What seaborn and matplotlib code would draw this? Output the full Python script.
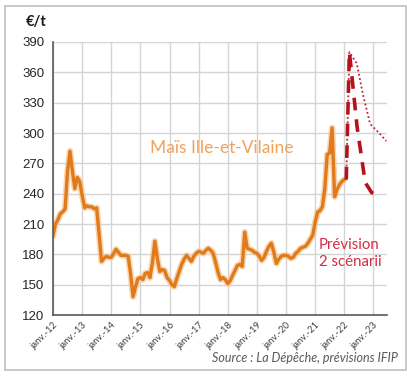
import numpy as np
import pandas as pd
import matplotlib
matplotlib.use("Agg")
import matplotlib.pyplot as plt
import seaborn as sns
from matplotlib.patches import Rectangle

# ---------------- data ----------------
hist_start = "2012-01-01"
hist_values = [
    198, 210, 214, 220, 222, 225, 262, 282, 262, 245, 256, 252,   # 2012
    238, 226, 228, 227, 227, 225, 226, 200, 173, 176, 178, 177,   # 2013
    177, 181, 185, 182, 179, 179, 179, 178, 160, 138, 148, 156,   # 2014
    157, 155, 161, 162, 157, 172, 193, 176, 163, 165, 164, 157,   # 2015
    154, 150, 148, 156, 163, 170, 175, 179, 176, 173, 178, 181,   # 2016
    183, 182, 181, 184, 186, 184, 181, 172, 162, 155, 157, 155,   # 2017
    151, 154, 159, 164, 169, 170, 168, 202, 186, 185, 184, 182,   # 2018
    181, 178, 174, 177, 183, 188, 191, 182, 171, 175, 178, 179,   # 2019
    179, 178, 176, 177, 181, 183, 186, 187, 188, 191, 195, 199,   # 2020
    212, 222, 223, 227, 245, 279, 280, 305, 237, 244, 249, 252,   # 2021
    254,                                                          # 2022
]
low_dates = ["2022-01-25", "2022-03-05", "2022-04-01", "2022-06-10",
             "2022-09-20", "2022-12-10", "2023-02-20", "2023-04-01"]
low_values = [254, 380, 360, 306, 251, 241, 239, 242]
high_dates = ["2022-01-25", "2022-03-05", "2022-06-05", "2022-08-20",
              "2022-11-20", "2023-03-25", "2023-06-10"]
high_values = [254, 380, 369, 339, 309, 299, 292]
years = list(range(2012, 2024))
tick_labels = [f"janv.-{y % 100:02d}" for y in years]
y_ticks = [120, 150, 180, 210, 240, 270, 300, 330, 360, 390]

hist = pd.DataFrame({"date": pd.date_range(hist_start, periods=len(hist_values), freq="MS"),
                     "prix": hist_values})
low = pd.DataFrame({"date": pd.to_datetime(low_dates), "prix": low_values})
high = pd.DataFrame({"date": pd.to_datetime(high_dates), "prix": high_values})

# ---------------- figure ----------------
sns.set_style("white")
plt.rcParams["font.family"] = ["Liberation Sans", "DejaVu Sans"]

fig = plt.figure(figsize=(4.14, 3.76), dpi=100)
fig.patches.append(Rectangle((5 / 414, 6 / 376), 401 / 414, 364 / 376,
                             transform=fig.transFigure, fill=False,
                             edgecolor="#BFBFBF", linewidth=1.2))
ax = fig.add_axes([53 / 414, 61 / 376, 334 / 414, 273 / 376])

orange = "#E07B1C"
red = "#B5121B"

# halo + main line
sns.lineplot(data=hist, x="date", y="prix", ax=ax, color="#F7C48F", linewidth=4.6,
             alpha=0.7, legend=False)
sns.lineplot(data=hist, x="date", y="prix", ax=ax, color=orange, linewidth=2.4,
             legend=False)
sns.lineplot(data=high, x="date", y="prix", ax=ax, color="#C0203A", linewidth=1.3,
             linestyle=(0, (1, 1.4)), legend=False)
sns.lineplot(data=low, x="date", y="prix", ax=ax, color=red, linewidth=2.6,
             linestyle=(0, (3.5, 2.5)), legend=False)

ax.set_xlim(pd.Timestamp("2012-01-01"), pd.Timestamp("2023-06-20"))
ax.set_ylim(120, 390)
tick_dates = [pd.Timestamp(f"{y}-01-01") for y in years]
ax.set_xticks(tick_dates)
ax.set_xticklabels(tick_labels, rotation=45, ha="right", rotation_mode="anchor",
                   fontsize=6.8, color="#404040", family=["Lato", "DejaVu Sans"])
ax.set_yticks(y_ticks)
ax.set_yticklabels([str(v) for v in y_ticks], fontsize=9.5, color="#262626")
ax.set_xlabel("")
ax.set_ylabel("")

ax.grid(True, color="#D4D4D4", linewidth=1.0)
ax.set_axisbelow(True)
for s in ["top", "right"]:
    ax.spines[s].set_visible(False)
for s in ["left", "bottom"]:
    ax.spines[s].set_color("#595959")
    ax.spines[s].set_linewidth(1.2)
ax.tick_params(axis="y", direction="in", length=5, color="#595959", pad=6)
ax.tick_params(axis="x", direction="inout", length=4, color="#595959", pad=2)

ax.text(0.506, 0.612, "Maïs Ille-et-Vilaine", transform=ax.transAxes, ha="center",
        va="center", fontsize=12.5, color="#F0A25A", family=["Lato", "DejaVu Sans"])
ax.text(0.796, 0.225, "Prévision\n2 scénarii", transform=ax.transAxes, ha="left",
        va="center", fontsize=10.8, color="#D42A45", linespacing=1.25,
        family=["Lato", "DejaVu Sans"])

fig.text(36 / 414, 1 - 22 / 376, "€/t", ha="center", va="center", fontsize=10.5,
         fontweight="bold", color="#1A1A1A", family=["Lato", "DejaVu Sans"])
fig.text(398 / 414, 1 - 358 / 376, "Source : La Dépêche, prévisions IFIP",
         ha="right", va="center", fontsize=9, style="italic", color="#595959",
         family=["Lato", "DejaVu Sans"])

fig.savefig("out.png", dpi=100)
